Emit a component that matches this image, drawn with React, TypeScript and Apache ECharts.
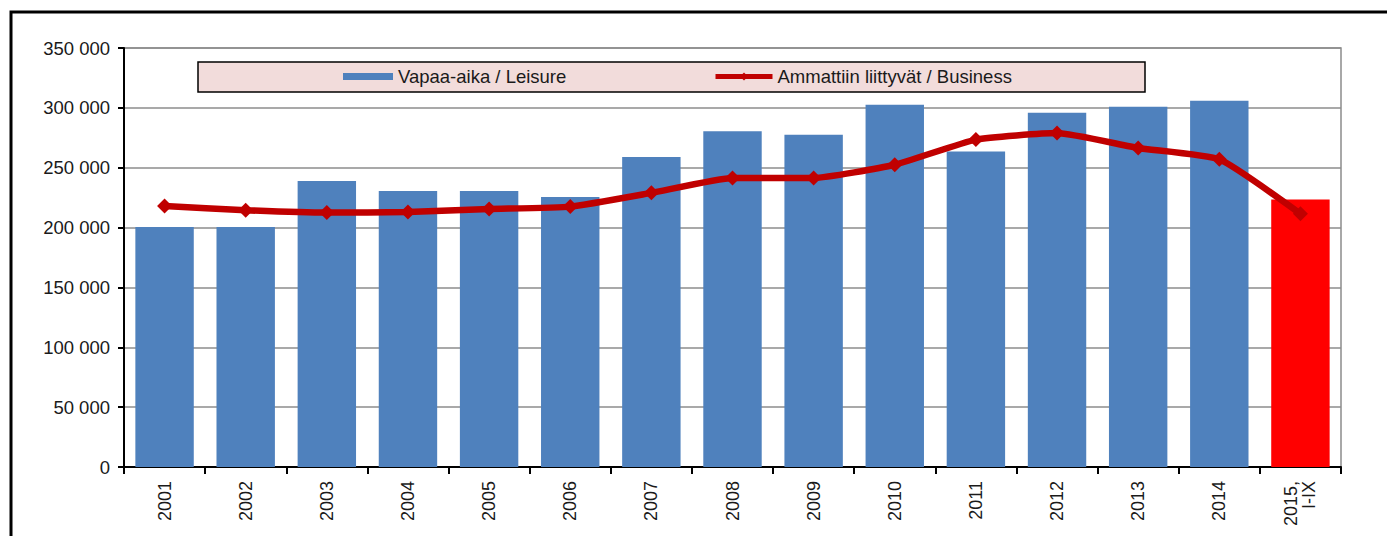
import React, { useEffect, useRef } from "react";
import * as echarts from "echarts";

const categories = ["2001", "2002", "2003", "2004", "2005", "2006", "2007", "2008", "2009", "2010", "2011", "2012", "2013", "2014", "2015,\nI-IX"];
const leisure = [200500, 200500, 239000, 230500, 230500, 225500, 259000, 280500, 277500, 302500, 263500, 296000, 301000, 306000, 223500];
const business = [218000, 214500, 212500, 213000, 215500, 217500, 229000, 241500, 241500, 252500, 273500, 279000, 266500, 257000, 211500];
const yTicks = { min: 0, max: 350000, interval: 50000 };
const leisureName = "Vapaa-aika / Leisure";
const businessName = "Ammattiin liittyvät / Business";

const fmt = (v: number) => String(v).replace(/\B(?=(\d{3})+(?!\d))/g, " ");

export default function App() {
  const ref = useRef<HTMLDivElement>(null);
  useEffect(() => {
    if (!ref.current) return;
    const chart = echarts.init(ref.current, undefined, { renderer: "svg" });
    const font = "'Liberation Sans', Arial, sans-serif";
    chart.setOption({
      animation: false,
      backgroundColor: "#ffffff",
      textStyle: { fontFamily: font },
      grid: {
        left: 124,
        right: 46,
        top: 48,
        bottom: 69,
        show: true,
        borderColor: "#8c8c8c",
        borderWidth: 1.5,
        backgroundColor: "transparent",
      },
      graphic: [
        {
          type: "rect",
          z: -10,
          shape: { x: 11, y: 12, width: 1420, height: 600 },
          style: { fill: "transparent", stroke: "#000", lineWidth: 3 },
        },
        {
          type: "rect",
          z: 0,
          shape: { x: 198, y: 62, width: 947, height: 30 },
          style: { fill: "#F2DCDB", stroke: "#000", lineWidth: 1.5 },
        },
      ],
      legend: [
        {
          data: [leisureName],
          left: 343,
          top: 67,
          padding: 0,
          z: 10,
          itemWidth: 50,
          itemHeight: 7,
          itemGap: 8,
          icon: "rect",
          textStyle: { fontSize: 18.5, color: "#1a1a1a", fontFamily: font },
        },
        {
          data: [businessName],
          left: 713,
          top: 67,
          padding: 0,
          z: 10,
          itemWidth: 57,
          itemHeight: 10,
          itemGap: 6,
          lineStyle: { width: 5 },
          textStyle: { fontSize: 18.5, color: "#1a1a1a", fontFamily: font },
        },
      ],
      xAxis: {
        type: "category",
        data: categories,
        axisLine: { lineStyle: { color: "#000", width: 2 } },
        axisTick: { show: true, length: 7, lineStyle: { color: "#000", width: 2 } },
        axisLabel: {
          rotate: 90,
          fontSize: 18,
          color: "#1a1a1a",
          margin: 14,
          lineHeight: 18,
          fontFamily: font,
        },
      },
      yAxis: {
        type: "value",
        min: yTicks.min,
        max: yTicks.max,
        interval: yTicks.interval,
        axisLine: { show: true, lineStyle: { color: "#000", width: 2 } },
        axisTick: { show: true, length: 6, lineStyle: { color: "#000", width: 2 } },
        splitLine: { lineStyle: { color: "#8c8c8c", width: 1.5 } },
        axisLabel: {
          fontSize: 18.5,
          color: "#1a1a1a",
          margin: 14,
          fontFamily: font,
          formatter: (v: number) => fmt(v),
        },
      },
      series: [
        {
          name: leisureName,
          type: "bar",
          data: leisure.map((v, i) =>
            i === leisure.length - 1 ? { value: v, itemStyle: { color: "#FF0000" } } : v
          ),
          barCategoryGap: "28%",
          itemStyle: { color: "#4F81BD" },
        },
        {
          name: businessName,
          type: "line",
          data: business,
          smooth: 0.15,
          symbol: "diamond",
          symbolSize: 15,
          lineStyle: { color: "#C00000", width: 6.5 },
          itemStyle: { color: "#C00000" },
          z: 5,
        },
      ],
    });
    return () => chart.dispose();
  }, []);
  return (
    <div
      ref={ref}
      style={{ position: "fixed", left: 0, top: 0, width: 1387, height: 536 }}
    />
  );
}
